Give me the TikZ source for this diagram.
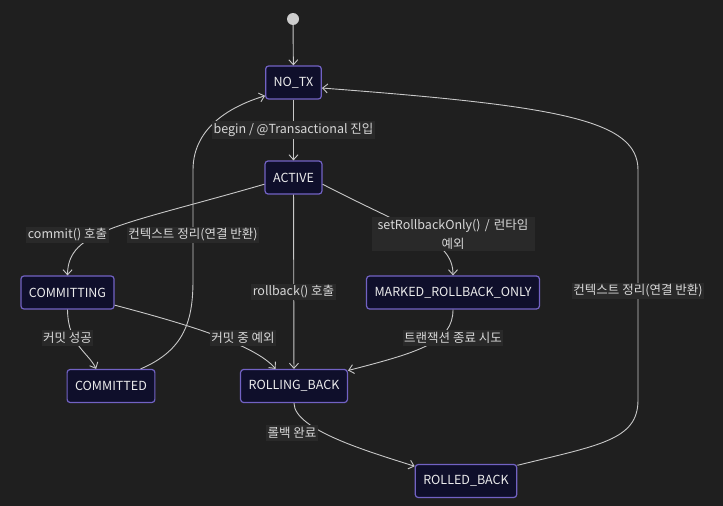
\documentclass[tikz,border=0pt]{standalone}
\usepackage{fontspec}
\setmainfont{Noto Sans CJK KR}
\usetikzlibrary{arrows.meta,positioning}
\definecolor{bgcol}{HTML}{1F1F1F}
\definecolor{boxfill}{HTML}{0F0F2B}
\definecolor{boxline}{HTML}{7262C4}
\definecolor{boxtext}{HTML}{ECECEC}
\definecolor{linecol}{HTML}{C8C8C8}
\definecolor{lblfill}{HTML}{292929}
\definecolor{lbltext}{HTML}{D8D8D8}
\tikzset{
    %Define standard arrow tip
    >={Straight Barb[length=5pt,width=9pt]},
    %Define style for states
    statebox/.style={
           rectangle,
           rounded corners=3pt,
           draw=boxline, line width=1.2pt,
           fill=boxfill,
           text=boxtext,
           inner xsep=8pt,
           minimum height=33pt,
           text centered},
    startpunkt/.style={
           circle,
           fill=linecol!90!white,
           minimum size=12pt,
           inner sep=0pt},
    % Define style for edge labels
    txlabel/.style={
           rectangle,
           fill=lblfill,
           text=lbltext,
           inner xsep=1.5pt,
           inner ysep=2pt},
    % Define arrow style
    trans/.style={
           ->,
           draw=linecol,
           line width=0.9pt}
}
\begin{document}
\begin{tikzpicture}[x=1pt,y=-1pt,font=\fontsize{12.5}{19}\selectfont]
\useasboundingbox[fill=bgcol] (0,0) rectangle (723,506);
 %nodes
\node[startpunkt](start) at (293,19){};
\node[statebox](notx) at (293.5,82.5){NO\_TX};
\node[statebox](active) at (293.5,177.5){ACTIVE};
\node[statebox](committing) at (67.5,292.5){COMMITTING};
\node[statebox](marked) at (453,292.5){MARKED\_ROLLBACK\_ONLY};
\node[statebox](committed) at (111,386){COMMITTED};
\node[statebox](rollingback) at (294,386){ROLLING\_BACK};
\node[statebox](rolledback) at (466,481){ROLLED\_BACK};
 %transitions
\path[trans]
    (start) edge (notx)
    (notx) edge (active)
    (active) edge (rollingback);
\draw[trans] (active.193) .. controls (120,226) and (68,230) .. (committing.north);
\draw[trans] (active.-13) .. controls (411,230) and (453,240) .. (marked.north);
\draw[trans] (committing.south) .. controls (68,345) and (88,352) .. (committed.131);
\draw[trans] (committing.-15) .. controls (190,325) and (255,345) .. (rollingback.137);
\draw[trans] (marked.south) .. controls (453,342) and (420,352) .. (rollingback.16);
\draw[trans] (committed.30) .. controls (185,350) and (193,320) .. (193,280)
    -- (193,170) .. controls (193,125) and (235,105) .. (notx.205);
\draw[trans] (rollingback.south) .. controls (294,430) and (370,452) .. (rolledback.164);
\draw[trans] (rolledback.17) .. controls (600,445) and (638,440) .. (638,400)
    -- (638,170) .. controls (638,120) and (560,106) .. (notx.-11);
 %labels
\node[txlabel](lbegin) at (293.5,130){begin / @Transactional 진입};
\node[txlabel](lcommit) at (67.5,235){commit() 호출};
\node[txlabel](lctxa) at (193,235){컨텍스트 정리(연결 반환)};
\node[txlabel](lrollback) at (293.5,292){rollback() 호출};
\node[txlabel,text width=160pt,align=center](lsetrb) at (453,234){setRollbackOnly() / 런타임\\예외};
\node[txlabel](lsuccess) at (67.5,338){커밋 성공};
\node[txlabel](lcommitex) at (243,338){커밋 중 예외};
\node[txlabel](lendtry) at (453,338){트랜잭션 종료 시도};
\node[txlabel](lrbdone) at (292,433){롤백 완료};
\node[txlabel](lctxb) at (638,291){컨텍스트 정리(연결 반환)};
\end{tikzpicture}
\end{document}
